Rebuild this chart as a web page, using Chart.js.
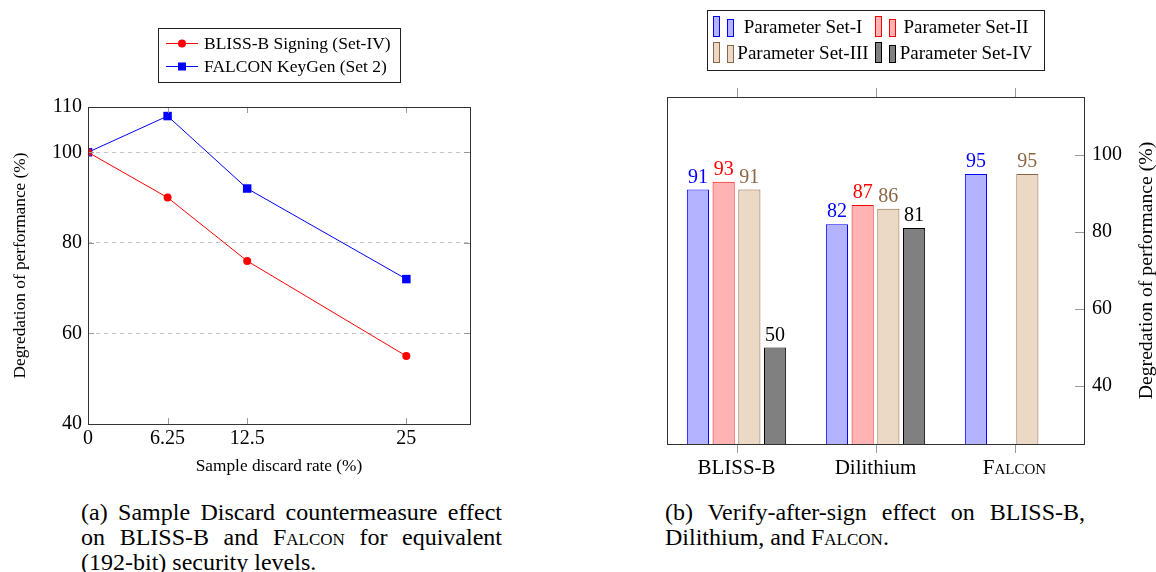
<!DOCTYPE html>
<html>
<head>
<meta charset="utf-8">
<script src="https://cdn.jsdelivr.net/npm/chart.js@4.4.1/dist/chart.umd.min.js"></script>
<style>
  body { margin: 0; background: #fff; width: 1156px; height: 572px; position: relative; overflow: hidden; font-family: "Liberation Serif", serif; }
  canvas { position: absolute; top: 0; }
  #leftChart { left: 0; }
  #rightChart { left: 640px; }
  .cap { position: absolute; top: 500px; font-size: 24px; line-height: 25px; color: #000; }
  .cap div { text-align: justify; text-align-last: justify; white-space: nowrap; }
  .cap div.last { text-align-last: left; }
  .sc { font-variant: small-caps; }
</style>
</head>
<body>
<canvas id="leftChart" width="490" height="480"></canvas>
<canvas id="rightChart" width="516" height="480"></canvas>

<div class="cap" style="left:81px;width:421px;">
  <div>(a) Sample Discard countermeasure effect</div>
  <div>on BLISS-B and F<span class="sc">alcon</span> for equivalent</div>
  <div class="last">(192-bit) security levels.</div>
</div>
<div class="cap" style="left:665px;width:420px;">
  <div>(b) Verify-after-sign effect on BLISS-B,</div>
  <div class="last">Dilithium, and F<span class="sc">alcon</span>.</div>
</div>

<script>
// (a) sample discard
const discardRates = [0, 6.25, 12.5, 25];
const blissSigning = [100, 90, 76, 55];
const falconKeyGen = [100, 108, 92, 72];
const leftYTicks = [40, 60, 80, 100, 110];

// (b) verify-after-sign
const schemes = ['BLISS-B', 'Dilithium', 'Falcon'];
const setI = [91, 82, 95];
const setII = [93, 87, null];
const setIII = [91, 86, 95];
const setIV = [50, 81, null];
const rightYTicks = [40, 60, 80, 100];

const serif = '"Liberation Serif", "Times New Roman", serif';

// box around plot + short pgfplots-style ticks
const pgfFrame = {
  id: 'pgfFrame',
  afterDatasetsDraw(chart, args, o) {
    const { ctx, chartArea: a, scales } = chart;
    const len = o.tickLen || 7;
    ctx.save();
    ctx.lineWidth = 1;
    ctx.strokeStyle = o.tickColor || '#999';
    ctx.beginPath();
    scales.x.ticks.forEach((t, i) => {
      const px = Math.round(scales.x.getPixelForTick(i)) + 0.5;
      if (o.xOut) {
        ctx.moveTo(px, a.top - len); ctx.lineTo(px, a.top);
        ctx.moveTo(px, a.bottom); ctx.lineTo(px, a.bottom + len);
      } else {
        ctx.moveTo(px, a.top); ctx.lineTo(px, a.top + len);
        ctx.moveTo(px, a.bottom); ctx.lineTo(px, a.bottom - len);
      }
    });
    scales.y.ticks.forEach(t => {
      const py = Math.round(scales.y.getPixelForValue(t.value)) + 0.5;
      if (o.yLeft) { ctx.moveTo(a.left, py); ctx.lineTo(a.left + len, py); }
      ctx.moveTo(a.right, py); ctx.lineTo(a.right - len, py);
    });
    ctx.stroke();
    ctx.strokeStyle = o.color || '#333';
    ctx.strokeRect(Math.round(a.left) + 0.5, Math.round(a.top) + 0.5,
                   Math.round(a.right - a.left), Math.round(a.bottom - a.top));
    // axis titles
    ctx.fillStyle = '#000';
    ctx.textAlign = 'center';
    ctx.textBaseline = 'middle';
    if (o.xTitle) {
      ctx.font = o.titleSize + 'px ' + serif;
      ctx.fillText(o.xTitle, (a.left + a.right) / 2, o.xTitleY);
    }
    if (o.yTitle) {
      ctx.font = o.titleSize + 'px ' + serif;
      ctx.translate(o.yTitleX, (a.top + a.bottom) / 2);
      ctx.rotate(-Math.PI / 2);
      ctx.fillText(o.yTitle, 0, 0);
    }
    ctx.restore();
  }
};

// legend of (a): line + marker
const lineLegend = {
  id: 'lineLegend',
  afterDraw(chart) {
    const c = chart.ctx;
    c.save();
    c.strokeStyle = '#222';
    c.lineWidth = 1;
    c.strokeRect(158.5, 28.5, 242, 54);
    c.font = '17.5px ' + serif;
    c.textBaseline = 'middle';
    chart.data.datasets.forEach((ds, i) => {
      const y = 43.5 + i * 23;
      c.strokeStyle = ds.borderColor;
      c.beginPath(); c.moveTo(166, y); c.lineTo(198, y); c.stroke();
      c.fillStyle = ds.backgroundColor;
      if (ds.pointStyle === 'rect') {
        c.fillRect(178, y - 4, 8, 8);
      } else {
        c.beginPath(); c.arc(182, y, 4, 0, Math.PI * 2); c.fill();
      }
      c.fillStyle = '#000';
      c.fillText(ds.label, 204, y + 1);
    });
    c.restore();
  }
};

// legend of (b): two little bars per entry, 2 columns
const barLegend = {
  id: 'barLegend',
  afterDraw(chart) {
    const c = chart.ctx;
    c.save();
    c.strokeStyle = '#222';
    c.lineWidth = 1;
    c.strokeRect(67.5, 10.5, 337, 60);
    c.font = '19px ' + serif;
    c.textAlign = 'center';
    c.textBaseline = 'alphabetic';
    const iconX = [73, 235], textX = [163, 326], rowY = [37, 63];
    chart.data.datasets.forEach((ds, i) => {
      const col = i % 2, row = Math.floor(i / 2);
      const x = iconX[col], b = rowY[row];
      c.fillStyle = ds.backgroundColor;
      c.strokeStyle = ds.borderColor;
      c.fillRect(x, b - 21, 7, 21); c.strokeRect(x + 0.5, b - 20.5, 6, 20);
      c.fillRect(x + 14, b - 18, 7, 18); c.strokeRect(x + 14.5, b - 17.5, 6, 17);
      c.fillStyle = '#000';
      c.fillText(ds.label, textX[col], b - 4);
    });
    c.restore();
  }
};

// value labels on top of bars
const barValues = {
  id: 'barValues',
  afterDatasetsDraw(chart) {
    const c = chart.ctx;
    c.save();
    c.font = '20px ' + serif;
    c.textAlign = 'center';
    c.textBaseline = 'alphabetic';
    chart.data.datasets.forEach((ds, i) => {
      chart.getDatasetMeta(i).data.forEach((el, j) => {
        if (ds.data[j] == null) return;
        c.fillStyle = ds.labelColor;
        c.fillText(ds.data[j], el.x, el.y - 7);
      });
    });
    c.restore();
  }
};

new Chart(document.getElementById('leftChart'), {
  type: 'line',
  data: {
    datasets: [{
      label: 'BLISS-B Signing (Set-IV)',
      data: discardRates.map((x, i) => ({ x: x, y: blissSigning[i] })),
      borderColor: '#ff0000',
      backgroundColor: '#ff0000',
      borderWidth: 1,
      pointStyle: 'circle',
      pointRadius: 4,
      pointBorderWidth: 0
    }, {
      label: 'FALCON KeyGen (Set 2)',
      data: discardRates.map((x, i) => ({ x: x, y: falconKeyGen[i] })),
      borderColor: '#0000ff',
      backgroundColor: '#0000ff',
      borderWidth: 1,
      pointStyle: 'rect',
      pointRadius: 6,
      pointBorderWidth: 0
    }]
  },
  options: {
    responsive: false,
    animation: false,
    devicePixelRatio: 1,
    layout: { padding: { top: 107, right: 20, left: 0, bottom: 0 } },
    plugins: {
      legend: { display: false },
      tooltip: { enabled: false },
      pgfFrame: {
        color: '#333', tickColor: '#999', tickLen: 6, yLeft: true,
        titleSize: 17.3,
        xTitle: 'Sample discard rate (%)', xTitleY: 466,
        yTitle: 'Degredation of performance (%)', yTitleX: 20
      }
    },
    scales: {
      x: {
        type: 'linear', min: 0, max: 30,
        afterBuildTicks: s => { s.ticks = discardRates.map(v => ({ value: v })); },
        afterFit: s => { s.height = 56; },
        grid: { display: false, drawTicks: false },
        border: { display: false },
        ticks: { color: '#000', padding: 3, maxRotation: 0, autoSkip: false,
                 font: { family: serif, size: 20 }, callback: v => String(v) }
      },
      y: {
        min: 40, max: 110,
        afterBuildTicks: s => { s.ticks = leftYTicks.map(v => ({ value: v })); },
        afterFit: s => { s.width = 88; },
        grid: {
          drawTicks: false,
          color: c => (c.tick && (c.tick.value === 40 || c.tick.value === 110)) ? 'rgba(0,0,0,0)' : '#c4c4c4'
        },
        border: { display: false, dash: [4, 4] },
        ticks: { color: '#000', padding: 6, font: { family: serif, size: 20 }, callback: v => String(v) }
      }
    }
  },
  plugins: [pgfFrame, lineLegend]
});

const barStyle = { borderWidth: 1, categoryPercentage: 0.74, barPercentage: 0.86 };

new Chart(document.getElementById('rightChart'), {
  type: 'bar',
  data: {
    labels: schemes,
    datasets: [
      Object.assign({ label: 'Parameter Set-I', data: setI, backgroundColor: '#b3b3ff', borderColor: '#0000ff', labelColor: '#0000ff' }, barStyle),
      Object.assign({ label: 'Parameter Set-II', data: setII, backgroundColor: '#ffb3b3', borderColor: '#ff0000', labelColor: '#ff0000' }, barStyle),
      Object.assign({ label: 'Parameter Set-III', data: setIII, backgroundColor: '#ebd9c6', borderColor: '#8c6644', labelColor: '#8c6644' }, barStyle),
      Object.assign({ label: 'Parameter Set-IV', data: setIV, backgroundColor: '#808080', borderColor: '#000000', labelColor: '#000000' }, barStyle)
    ]
  },
  options: {
    responsive: false,
    animation: false,
    devicePixelRatio: 1,
    layout: { padding: { top: 97, left: 27, right: 0, bottom: 0 } },
    plugins: {
      legend: { display: false },
      tooltip: { enabled: false },
      pgfFrame: {
        color: '#333', tickColor: '#999', tickLen: 9, xOut: true,
        titleSize: 19.7,
        yTitle: 'Degredation of performance (%)', yTitleX: 507
      }
    },
    scales: {
      x: {
        afterFit: s => { s.height = 36; },
        grid: { display: false, drawTicks: false },
        border: { display: false },
        ticks: {
          color: '#000', padding: 12, maxRotation: 0, autoSkip: false,
          font: c => c.index === 2
            ? { family: serif, size: 21, weight: 'small-caps' }
            : { family: serif, size: 21 }
        }
      },
      y: {
        position: 'right',
        min: 25, max: 115,
        afterBuildTicks: s => { s.ticks = rightYTicks.map(v => ({ value: v })); },
        afterFit: s => { s.width = 72; },
        grid: { display: false, drawTicks: false },
        border: { display: false },
        ticks: { color: '#000', padding: 8, font: { family: serif, size: 20 }, callback: v => String(v) }
      }
    }
  },
  plugins: [pgfFrame, barValues, barLegend]
});
</script>
</body>
</html>
